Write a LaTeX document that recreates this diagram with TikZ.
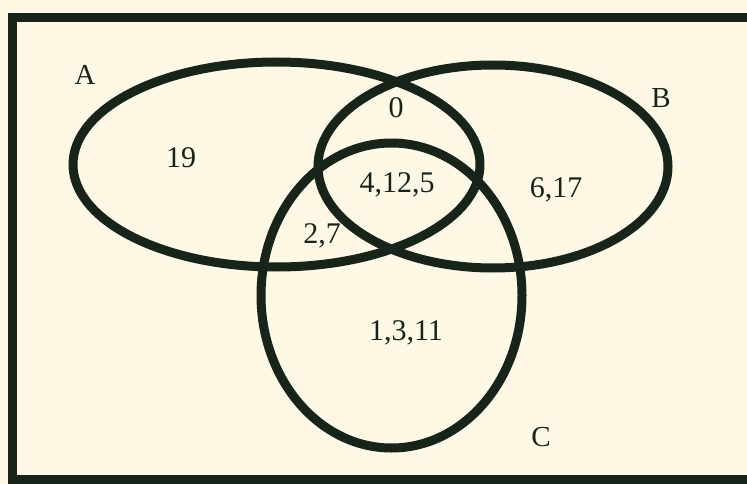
\documentclass[tikz,border=0pt]{standalone}
\usepackage{fontspec}
\setmainfont{Liberation Serif}
\usetikzlibrary{shapes.geometric}
\definecolor{paper}{RGB}{254,248,228}
\definecolor{vennink}{RGB}{22,36,26}
\tikzstyle{setline}=[ellipse, draw=vennink, line width=9pt, inner sep=0pt]
\tikzstyle{frameline}=[draw=vennink, line width=9pt, line join=miter]
\tikzstyle{setname}=[font=\fontsize{29}{32}\selectfont, text=vennink]
\tikzstyle{elems}=[font=\fontsize{30}{33}\selectfont, text=vennink]

\begin{document}
\begin{tikzpicture}[x=1pt,y=-1pt]
	\fill[paper] (0,0) rectangle (747,484);
	\useasboundingbox (0,0) rectangle (747,484);
	\draw[frameline] (747,17.5) -| (12.5,479.5) -- (747,479.5);
	
	\node[setline, minimum width=407pt, minimum height=205pt] (A) at (276.5,164.5) {};
	\node[setline, minimum width=350pt, minimum height=203pt] (B) at (493,166.5) {};
	\node[setline, minimum width=261pt, minimum height=305pt] (C) at (391.5,295.5) {};
	
	\node[setname] (nameA) at (85,75) {A};
	\node[setname] (nameB) at (661,98) {B};
	\node[setname] (nameC) at (541,437) {C};
	
	\node[elems] (onlyA) at (181,158) {19};
	\node[elems] (AB) at (396,108) {0};
	\node[elems] (ABC) at (397,185) {4,12,5};
	\node[elems] (onlyB) at (556,190) {6,17};
	\node[elems] (AC) at (322,236) {2,7};
	\node[elems] (onlyC) at (406,333) {1,3,11};
\end{tikzpicture}
\end{document}
